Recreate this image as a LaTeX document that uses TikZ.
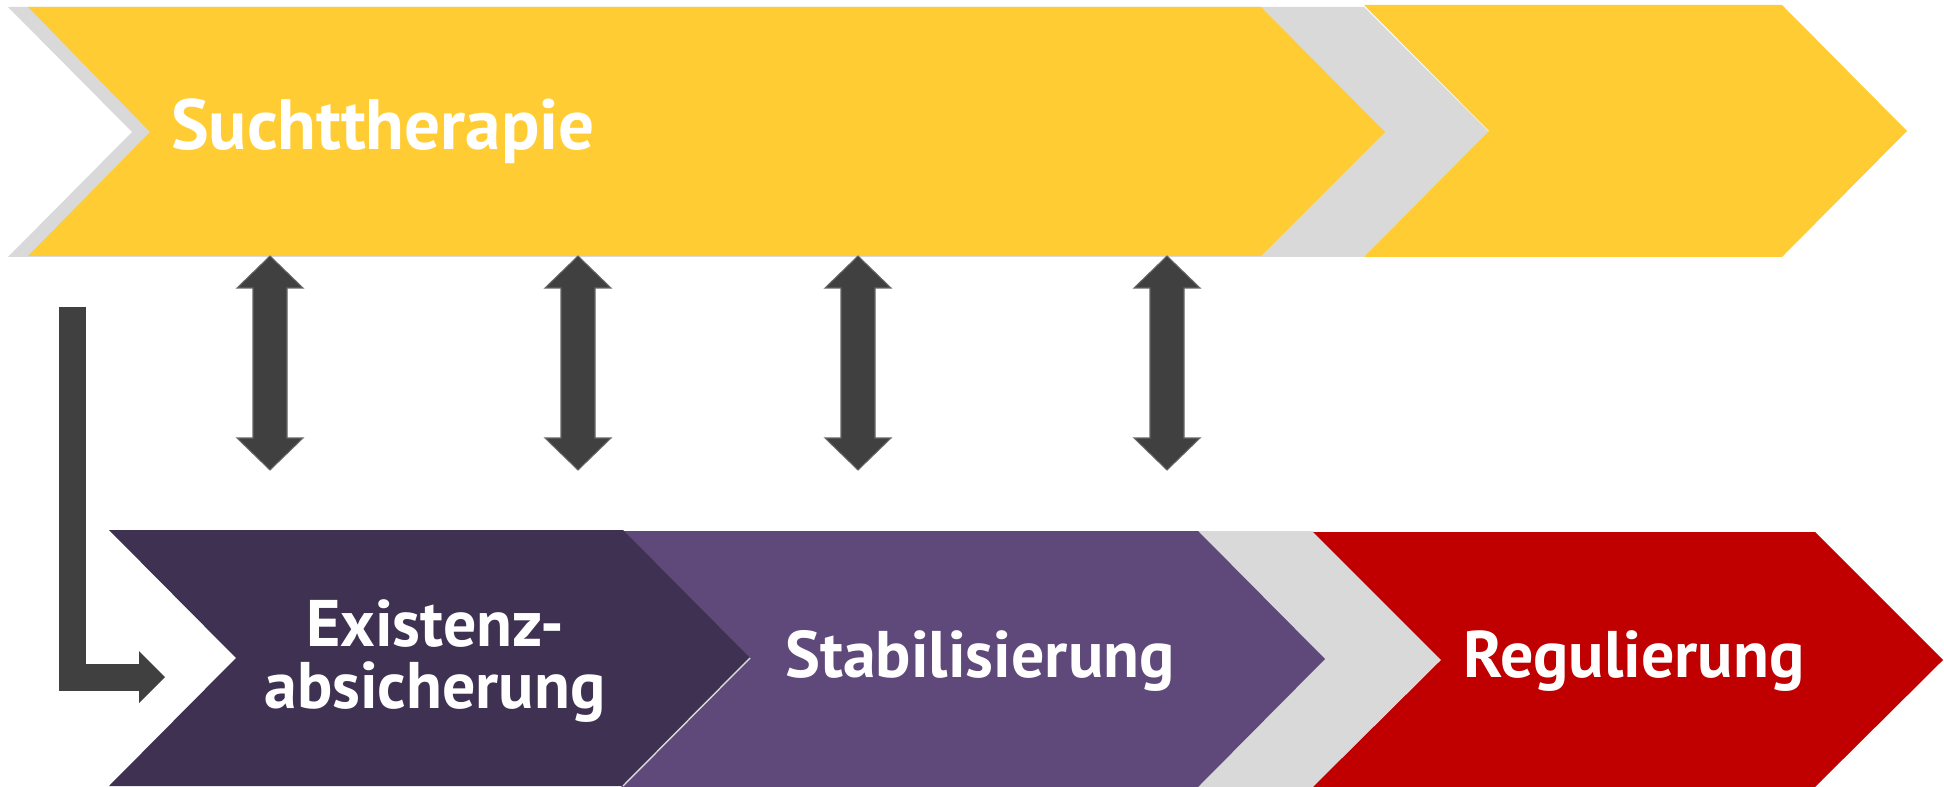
\documentclass[tikz,border=0pt]{standalone}
\usepackage{fontspec}
\setmainfont{PT Sans}
\usepackage{tikz}
\usetikzlibrary{arrows.meta,
positioning}
\definecolor{gold}{HTML}{FFCD33}
\definecolor{bandgrey}{HTML}{D9D9D9}
\definecolor{darkplum}{HTML}{3F3151}
\definecolor{plum}{HTML}{5F497A}
\definecolor{darkred}{HTML}{C00000}
\definecolor{arrowgrey}{HTML}{404040}
\definecolor{edgegrey}{HTML}{666666}

\begin{document}
\begin{tikzpicture}[
				x=0.02cm, y=-0.02cm,
				phase/.style={font=\bfseries\fontsize{37.5}{35.5}\selectfont, text=white, inner sep=0pt, align=center},
				bigphase/.style={phase, font=\bfseries\fontsize{40.5}{40}\selectfont},
				dblarrow/.style={fill=arrowgrey, draw=edgegrey, line width=0.6pt, line join=miter},
				flow/.style={draw=arrowgrey, line width=0.54cm, line join=miter,
					-{Triangle[length=0.52cm, width=1.04cm, line width=0pt]}}
			]
				\useasboundingbox (0,0) rectangle (1944,787);
				% top band
				\fill[bandgrey] (8,7) -- (1364,7) -- (1489,132) -- (1364,257) -- (8,257) -- (132,132) -- cycle;
				\fill[gold] (28,7) -- (1261,7) -- (1385,132) -- (1261,256) -- (28,256) -- (150,132) -- cycle;
				\fill[gold] (1364,5) -- (1782,5) -- (1907,131) -- (1782,257) -- (1364,257) -- (1489,131) -- cycle;
				% bottom band
				\fill[bandgrey] (760,531) -- (1313,531) -- (1441,659) -- (1313,787) -- (760,787) -- cycle;
				\fill[darkred] (1313,532) -- (1815,532) -- (1943,660) -- (1815,787) -- (1313,787) -- (1441,660) -- cycle;
				\fill[plum] (621,531) -- (1198,531) -- (1325,659) -- (1198,787) -- (621,787) -- (749,659) -- cycle;
				\fill[darkplum] (109,530) -- (623,530) -- (750,658) -- (623,786) -- (109,786) -- (236,658) -- cycle;
				\draw[bandgrey, line width=0.8pt] (750,658) -- (623,786);
				% labels
				\node [bigphase, anchor=base] (sucht) at (383,150) {Suchttherapie};
				\node [phase] (existenz) at (435,661) {Existenz-\\absicherung};
				\node [phase, anchor=base] (stabil) at (980,677) {Stabilisierung};
				\node [phase, anchor=base] (regul) at (1634,677) {Regulierung};
				% arrows
				\foreach \x in {270,578,858,1167}
					\draw[dblarrow] (\x,256) -- (\x+33,288) -- (\x+17,288) -- (\x+17,438) -- (\x+33,438)
						-- (\x,470) -- (\x-33,438) -- (\x-17,438) -- (\x-17,288) -- (\x-33,288) -- cycle;
				\coordinate (lstart) at (72.8,307);
				\coordinate (lend) at (165,677);
				\draw[flow] (lstart) |- (lend);
			\end{tikzpicture}
\end{document}
